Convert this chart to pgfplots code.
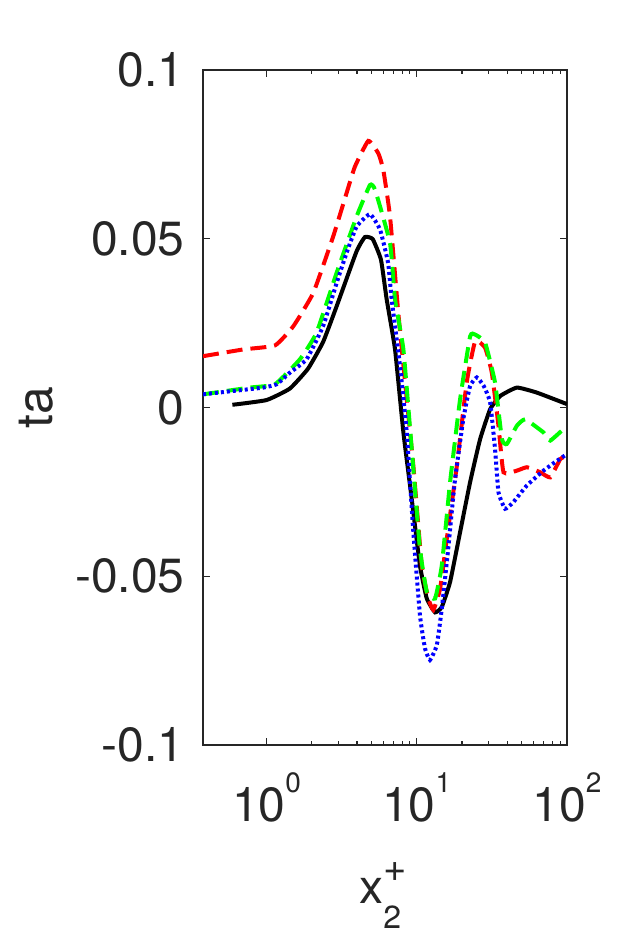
\documentclass[border=0pt]{standalone}
\usepackage{pgfplots}
\pgfplotsset{compat=1.18}
\usepackage{fontspec}
\setmainfont{TeX Gyre Heros}
\usetikzlibrary{calc}
\definecolor{axgray}{RGB}{38,38,38}
\newcommand{\tl}[1]{10\raisebox{14.5pt}{\fontsize{14}{14}\selectfont #1}}
\begin{document}
\begin{tikzpicture}
\path[use as bounding box] (0,0) rectangle (312.5pt,469pt);
\begin{axis}[
  at={(101.5pt,96.5pt)}, anchor=south west,
  scale only axis, width=182pt, height=337.5pt,
  xmode=log, xmin=0.378, xmax=100, ymin=-0.1, ymax=0.1,
  xtick={1,10,100}, xticklabels={\tl{0},\tl{1},\tl{2}},
  ytick={-0.1,-0.05,0,0.05,0.1}, yticklabels={-0.1,-0.05,0,0.05,0.1},
  tick align=inside, major tick length=3.5pt, minor tick length=2.2pt,
  axis line style={axgray, line width=0.6pt},
  every tick/.style={axgray, line width=0.6pt},
  tick label style={font=\fontsize{24}{28}\selectfont, text=axgray, inner sep=0pt},
  yticklabel style={anchor=east, xshift=-9pt},
  xticklabel style={anchor=base, yshift=-38pt},
  xlabel={x\rlap{\raisebox{11pt}{\fontsize{20}{20}\selectfont +}}\raisebox{-12.5pt}{\fontsize{16}{16}\selectfont 2}},
  xlabel style={at={($(axis description cs:0,0)+(78pt,-79pt)$)}, anchor=base west, inner sep=0pt, font=\fontsize{24}{28}\selectfont, text=axgray},
  ylabel={ta},
  ylabel style={at={($(axis description cs:0,0.5)+(-75pt,0pt)$)}, anchor=base, inner sep=0pt, font=\fontsize{25}{28}\selectfont, text=axgray},
  every axis plot/.append style={line width=2pt, smooth, tension=0.25},
]
\addplot[black] coordinates {(0.593,0.0008)(1.0,0.0022)(1.43,0.0056)(1.89,0.0115)(2.38,0.0194)(2.93,0.030)(3.98,0.0463)(4.52,0.0505)(5.09,0.0499)(5.78,0.0438)(6.31,0.032)(7.17,0.0172)(8.15,-0.0074)(9.26,-0.0271)(10.5,-0.0468)(11.66,-0.0566)(13.24,-0.0607)(14.68,-0.0591)(16.67,-0.0517)(19.44,-0.0369)(22.66,-0.0221)(26.4,-0.0094)(30.8,-0.0005)(35.9,0.0034)(46.4,0.0059)(63.1,0.0044)(100,0.001)};
\addplot[red, dash pattern=on 8pt off 4pt] coordinates {(0.378,0.0152)(0.70,0.0172)(1.14,0.0184)(1.51,0.0241)(2.05,0.034)(2.78,0.0507)(3.41,0.0635)(3.88,0.0714)(4.76,0.079)(5.55,0.0753)(5.99,0.0704)(6.64,0.0566)(7.54,0.028)(8.58,0.0025)(9.49,-0.0172)(10.8,-0.0468)(11.95,-0.0566)(12.9,-0.060)(14.3,-0.0537)(15.85,-0.0389)(18.5,-0.0172)(21.5,0.0074)(24.5,0.0197)(28.5,0.0177)(31.6,0.0103)(35,-0.0054)(37.8,-0.0192)(46.4,-0.0187)(54.1,-0.0177)(66.4,-0.0192)(77.4,-0.0207)(90.2,-0.0153)(100,-0.0143)};
\addplot[green, dash pattern=on 8pt off 4pt] coordinates {(0.378,0.0039)(0.774,0.0059)(1.14,0.0069)(1.67,0.0143)(2.15,0.0221)(2.93,0.0399)(3.98,0.0566)(4.88,0.0659)(5.28,0.0645)(6.64,0.0487)(7.17,0.032)(8.15,0.0172)(9.26,-0.0123)(10.5,-0.0418)(11.66,-0.0546)(13.24,-0.0566)(14.68,-0.0468)(16.67,-0.0221)(19.44,0.0025)(22.66,0.0211)(24.5,0.0216)(28.5,0.0192)(33.2,0.0074)(36.9,-0.0094)(39.8,-0.0108)(46.4,-0.0054)(52.7,-0.0035)(69.8,-0.0074)(77.4,-0.0098)(100,-0.0054)};
\addplot[blue, dash pattern=on 1.5pt off 1.5pt] coordinates {(0.378,0.0039)(0.6,0.0049)(0.95,0.0059)(1.17,0.0069)(1.43,0.0103)(1.85,0.0143)(2.38,0.0241)(2.93,0.0369)(3.41,0.0458)(3.98,0.0536)(4.88,0.0573)(5.7,0.0527)(6.45,0.0428)(6.81,0.032)(7.74,0.0123)(8.58,-0.0074)(9.49,-0.0369)(10.5,-0.0615)(11.35,-0.0714)(12.25,-0.0748)(13.6,-0.0704)(14.68,-0.0596)(16.2,-0.0418)(17.9,-0.0221)(20.4,-0.0035)(22.66,0.0064)(25.1,0.0089)(27.9,0.0064)(30.8,0.0015)(33.2,-0.0123)(35,-0.0251)(38.7,-0.030)(44,-0.028)(54.1,-0.0231)(69.8,-0.0187)(85.7,-0.0158)(100,-0.0138)};
\end{axis}
\end{tikzpicture}
\end{document}
